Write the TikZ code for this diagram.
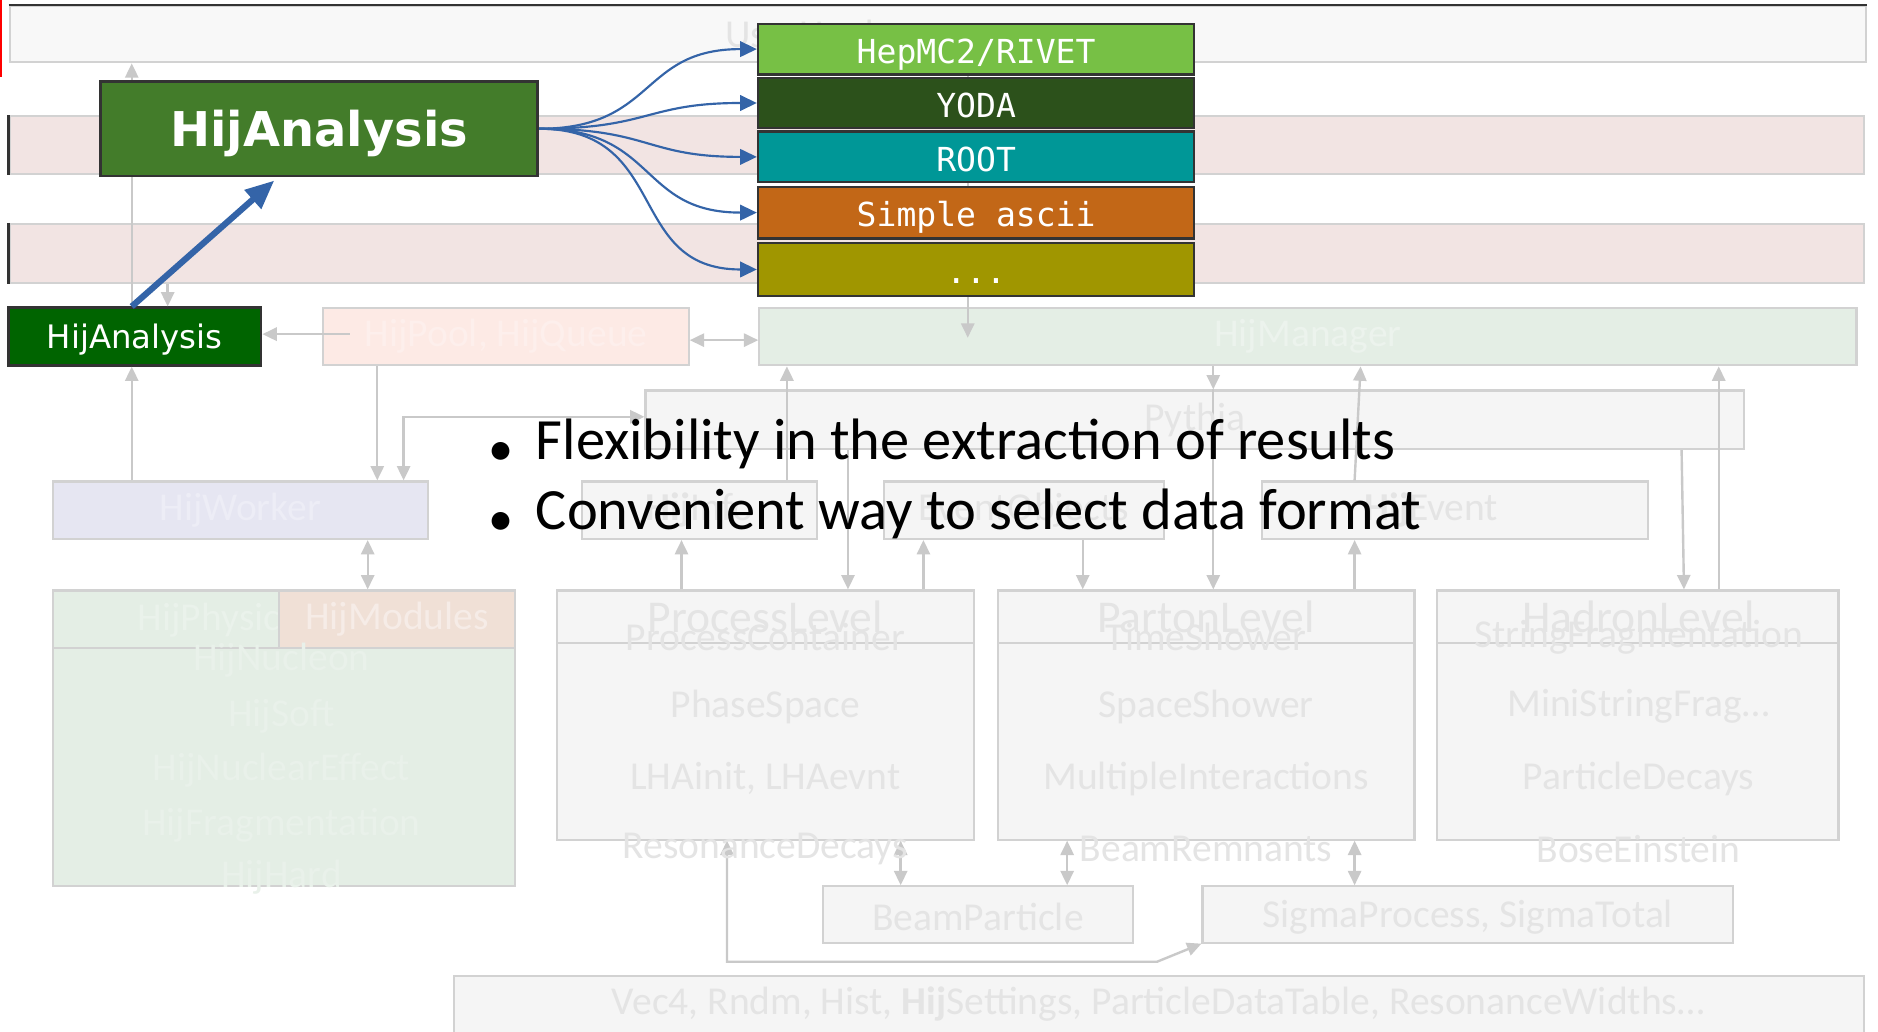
\documentclass[tikz,border=0pt]{standalone}
\usepackage{fontspec}
\setmainfont{Carlito}
\newfontfamily\vfont{DejaVu Sans}
\newfontfamily\mfont{DejaVu Sans Mono}
\usetikzlibrary{arrows.meta,fit,calc}
\definecolor{gline}{HTML}{C9C9C9}
\definecolor{gborder}{HTML}{D2D2D2}
\definecolor{gfill}{HTML}{F5F5F5}
\definecolor{ftext}{HTML}{E4E4E4}
\definecolor{pinkrow}{HTML}{F2E4E3}
\definecolor{mgreen}{HTML}{E4EEE5}
\definecolor{lav}{HTML}{E6E6F2}
\definecolor{peach}{HTML}{FDEAE5}
\definecolor{peachb}{HTML}{F0E0D6}
\definecolor{topfill}{HTML}{F8F8F8}
\definecolor{bigAc}{HTML}{437C2A}
\definecolor{smallAc}{HTML}{006400}
\definecolor{cHep}{HTML}{77C045}
\definecolor{cYoda}{HTML}{2C511B}
\definecolor{cRoot}{HTML}{009797}
\definecolor{cAscii}{HTML}{C26717}
\definecolor{cDots}{HTML}{A09600}
\definecolor{blueA}{HTML}{3464A8}
\definecolor{dk}{HTML}{333333}
\begin{document}
\begin{tikzpicture}[x=0.5pt,y=-0.5pt,
  fb/.style={draw=gborder, line width=0.9pt, inner sep=0pt, fill=gfill},
  ft/.style={inner sep=0pt, text=ftext, font=\fontsize{16.5}{19}\selectfont},
  fth/.style={inner sep=0pt, text=ftext, font=\fontsize{19}{22}\selectfont},
  ga/.style={draw=gline, line width=1pt, -{Triangle[length=6pt,width=5.5pt]}},
  gd/.style={draw=gline, line width=1pt, {Triangle[length=6pt,width=5.5pt]}-{Triangle[length=6pt,width=5.5pt]}},
  fmtbox/.style={draw=dk, line width=1.1pt, inner sep=0pt},
  fmttext/.style={inner sep=0pt, text=white, font=\mfont\fontsize{13.8}{16}\selectfont, text height=10pt, text depth=0pt, yshift=-1pt},
  bc/.style={draw=blueA, line width=0.9pt, -{Triangle[length=7pt,width=6.5pt]}},
  bullettext/.style={inner sep=0pt, anchor=base west, text=black, font=\fontsize{24.4}{28}\selectfont},
  bulletdot/.style={inner sep=0pt, anchor=base, text=black, font=\fontsize{21}{24}\selectfont},
]
\useasboundingbox (0,0) rectangle (1568,861);
\clip (0,0) rectangle (1568,861);
\fill[white] (0,0) rectangle (1568,861);

% ---------- helper coordinates ----------
\coordinate (X110) at (110,0);
\coordinate (X140) at (140,0);
\coordinate (X232) at (232,0);
\coordinate (X307) at (307,0);
\coordinate (X315) at (315,0);
\coordinate (X337) at (337,0);
\coordinate (X569) at (569,0);
\coordinate (X607) at (607,0);
\coordinate (X657) at (657,0);
\coordinate (X708) at (708,0);
\coordinate (X752) at (752,0);
\coordinate (X771) at (771,0);
\coordinate (X808) at (808,0);
\coordinate (X891) at (891,0);
\coordinate (X904) at (904,0);
\coordinate (X966) at (966,0);
\coordinate (X1013) at (1013,0);
\coordinate (X1131) at (1131,0);
\coordinate (X1136) at (1136,0);
\coordinate (X1404) at (1404,0);
\coordinate (X1406) at (1406,0);
\coordinate (X1435) at (1435,0);
\coordinate (Y284) at (0,284);
\coordinate (Y348) at (0,348);
\coordinate (Y803) at (0,803);
\coordinate (poolout) at (292,279);
\coordinate (mgrin) at (808,282);

% ---------- faded background boxes ----------
\node[fb, fill=topfill, fit={(8,5)(1558,52)}] (top) {};
\draw[dk, line width=0.9pt] (top.north west) -- (top.north east);
\draw[red, line width=1pt] (1,0) -- (1,64);
\node[fb, fill=pinkrow, fit={(8,97)(1556,145)}] (row1) {};
\node[fb, fill=pinkrow, fit={(8,187)(1556,236)}] (row2) {};
\draw[dk, line width=0.9pt] (row1.north west) -- (row1.south west);
\draw[dk, line width=0.9pt] (row2.north west) -- (row2.south west);

\node[fb, fill=peach, fit={(270,257)(575,305)}] (pool) {};
\node[fb, fill=mgreen, fit={(634,257)(1550,305)}] (mgr) {};
\node[fb, fit={(539,326)(1456,375)}] (pythia) {};
\node[fb, fill=lav, fit={(44,402)(357,450)}] (worker) {};
\node[fb, fit={(486,402)(682,450)}] (info) {};
\node[fb, fit={(738,402)(972,450)}] (event) {};
\node[fb, fit={(1054,402)(1376,450)}] (hev) {};

\node[fb, fill=mgreen, fit={(44,493)(233,541)}] (physh) {};
\node[fb, fill=mgreen, fit={(44,541)(430,740)}] (physb) {};

\node[fb, fit={(465,493)(813,537)}] (plh) {};
\node[fb, fit={(465,537)(813,701)}] (plb) {};
\node[fb, fit={(833,493)(1181,537)}] (pah) {};
\node[fb, fit={(833,537)(1181,701)}] (pab) {};
\node[fb, fit={(1200,493)(1535,537)}] (hah) {};
\node[fb, fit={(1200,537)(1535,701)}] (hab) {};

\node[fb, fit={(687,740)(946,787)}] (beam) {};
\node[fb, fit={(1004,740)(1447,787)}] (sigma) {};
\node[fb, fit={(379,815)(1556,880)}] (util) {};

% ---------- faded connectors ----------
\draw[gd] (pool.east |- Y284) -- (mgr.west |- Y284);
\draw[ga] (pool.south -| X315) -- (worker.north -| X315);
\draw[gd] (pythia.west |- Y348) -| (worker.north -| X337);
\draw[gd] (worker.south -| X307) -- (physh.north -| X307);
\draw[ga] (top.south -| X808) -- (row1.north -| X808);
\draw[ga] (row1.south -| X808) -- (row2.north -| X808);
\draw[ga] (row2.south -| X808) -- (mgrin);
\draw[ga] (info.north -| X657) -- (mgr.south -| X657);
\draw[ga] (pythia.south -| X708) -- (plh.north -| X708);
\draw[ga] (plh.north -| X569) -- (info.south -| X569);
\draw[ga] (plh.north -| X771) -- (event.south -| X771);
\draw[ga] (event.south -| X904) -- (pah.north -| X904);
\draw[ga] (mgr.south -| X1013) -- (pythia.north -| X1013);
\draw[ga] (pythia.north -| X1013) -- (pah.north -| X1013);
\draw[ga] (pah.north -| X1131) -- (hev.south -| X1131);
\draw[ga] (hev.north -| X1131) -- (mgr.south -| X1136);
\draw[ga] (pythia.south -| X1404) -- (hah.north -| X1406);
\draw[ga] (hah.north -| X1435) -- (mgr.south -| X1435);
\draw[gd] (plb.south -| X752) -- (beam.north -| X752);
\draw[gd] (pab.south -| X891) -- (beam.north -| X891);
\draw[gd] (pab.south -| X1131) -- (sigma.north -| X1131);
\draw[gd] (plb.south -| X607) -- (X607 |- Y803) -- (X966 |- Y803) -- (sigma.south west);

% ---------- faded texts ----------
\node[ft, anchor=west] (toptxt) at (605,28) {UserHooks};
\node[ft, text=white!25!peach] (pooltxt) at (pool.center) {HijPool, HijQueue};
\node[ft, text=white!30!mgreen] (mgrtxt) at (mgr.center) {HijManager};
\node[ft] (pytxt) at (pythia.center) {Pythia};
\node[ft, text=white!30!lav] (wtxt) at (worker.center) {HijWorker};
\node[ft] (infotxt) at (info.center) {\textbf{Hij}Info};
\node[ft] (evtxt) at (event.center) {EventObjects};
\node[ft] (hevtxt) at (1195,426) {\textbf{Hij}Event};
\node[ft, text=white!22!mgreen] (physt) at (181,518) {HijPhysics};
\node[fb, fill=peachb, fit={(233,493)(430,541)}] (modules) {};
\node[ft, text=white!40!peachb] (modt) at (modules.center) {HijModules};
\node[ft, text=white!20!mgreen] (p1) at (235,551) {HijNucleon};
\node[ft, text=white!20!mgreen] (p2) at (235,598) {HijSoft};
\node[ft, text=white!20!mgreen] (p3) at (235,643) {HijNuclearEffect};
\node[ft, text=white!20!mgreen] (p4) at (235,689) {HijFragmentation};
\node[ft, text=white!20!mgreen] (p5) at (235,732) {HijHard};

\node[fth] (plt) at (639,515) {ProcessLevel};
\node[ft] (pl1) at (639,532) {ProcessContainer};
\node[ft] (pl2) at (639,590) {PhaseSpace};
\node[ft] (pl3) at (639,650) {LHAinit, LHAevnt};
\node[ft] (pl4) at (639,709) {ResonanceDecays};
\node[fth] (pat) at (1007,515) {PartonLevel};
\node[ft] (pa1) at (1007,532) {TimeShower};
\node[ft] (pa2) at (1007,590) {SpaceShower};
\node[ft] (pa3) at (1007,650) {MultipleInteractions};
\node[ft] (pa4) at (1007,709) {BeamRemnants};
\node[fth] (hat) at (1368,515) {HadronLevel};
\node[ft] (ha1) at (1368,532) {StringFragmentation};
\node[ft] (ha2) at (1368,590) {MiniStringFrag\dots};
\node[ft] (ha3) at (1368,650) {ParticleDecays};
\node[ft] (ha4) at (1368,709) {BoseEinstein};
\node[ft] (beamt) at ([yshift=-1pt]beam.center) {BeamParticle};
\node[ft] (sigt) at ([yshift=-1pt]sigma.center) {SigmaProcess, SigmaTotal};
\node[ft] (utilt) at (967,838) {Vec4, Rndm, Hist, \textbf{Hij}Settings, ParticleDataTable, ResonanceWidths\dots};

% ---------- bullet text ----------
\node[bulletdot] (b1) at (418,389) {•};
\node[bullettext] (t1) at (447,384) {Flexibility in the extraction of results};
\node[bulletdot] (b2) at (418,447) {•};
\node[bullettext] (t2) at (447,442) {Convenient way to select data format};

% ---------- foreground ----------
\node[draw=dk, line width=1.1pt, fill=smallAc, inner sep=0pt, fit={(7,257)(218,305)}] (sanal) {};
\node[inner sep=0pt, text=white, font=\vfont\fontsize{13.5}{16}\selectfont, text height=9.8pt, text depth=0pt] (sanalt) at (sanal.center) {HijAnalysis};
\draw[ga] (sanal.north -| X110) -- (top.south -| X110);
\draw[ga] (row2.south -| X140) -- (sanal.north -| X140);
\draw[ga] (worker.north -| X110) -- (sanal.south -| X110);
\draw[ga] (poolout) -- (sanal.east |- poolout);
\node[draw=dk, line width=1.1pt, fill=bigAc, inner sep=0pt, fit={(84,68)(449,147)}] (bigA) {};
\node[inner sep=0pt, text=white, font=\vfont\fontsize{20}{24}\selectfont\bfseries, text height=14.6pt, text depth=0pt] (bigAt) at (bigA.center) {HijAnalysis};

\node[fmtbox, fill=cHep, fit={(633,20)(997,62)}] (hep) {};
\node[fmttext] (hept) at (hep.center) {HepMC2/RIVET};
\node[fmtbox, fill=cYoda, fit={(633,65)(997,107)}] (yoda) {};
\node[fmttext] (yodat) at (yoda.center) {YODA};
\node[fmtbox, fill=cRoot, fit={(633,110)(997,152)}] (root) {};
\node[fmttext] (roott) at (root.center) {ROOT};
\node[fmtbox, fill=cAscii, fit={(633,156)(997,199)}] (ascii) {};
\node[fmttext] (asciit) at (ascii.center) {Simple ascii};
\node[fmtbox, fill=cDots, fit={(633,203)(997,247)}] (dots) {};
\node[fmttext] (dotst) at (dots.center) {...};

\draw[bc] (bigA.east) to[out=0,in=180,looseness=1.3] (hep.west);
\draw[bc] (bigA.east) to[out=0,in=180,looseness=1.3] (yoda.west);
\draw[bc] (bigA.east) to[out=0,in=180,looseness=1.3] (root.west);
\draw[bc] (bigA.east) to[out=0,in=180,looseness=1.3] (ascii.west);
\draw[bc] (bigA.east) to[out=0,in=180,looseness=1.3] (dots.west);

\draw[draw=blueA, line width=2.6pt, shorten >=2pt, -{Triangle[length=12pt,width=10pt]}] (sanal.north -| X110) -- (bigA.south -| X232);
\end{tikzpicture}
\end{document}
